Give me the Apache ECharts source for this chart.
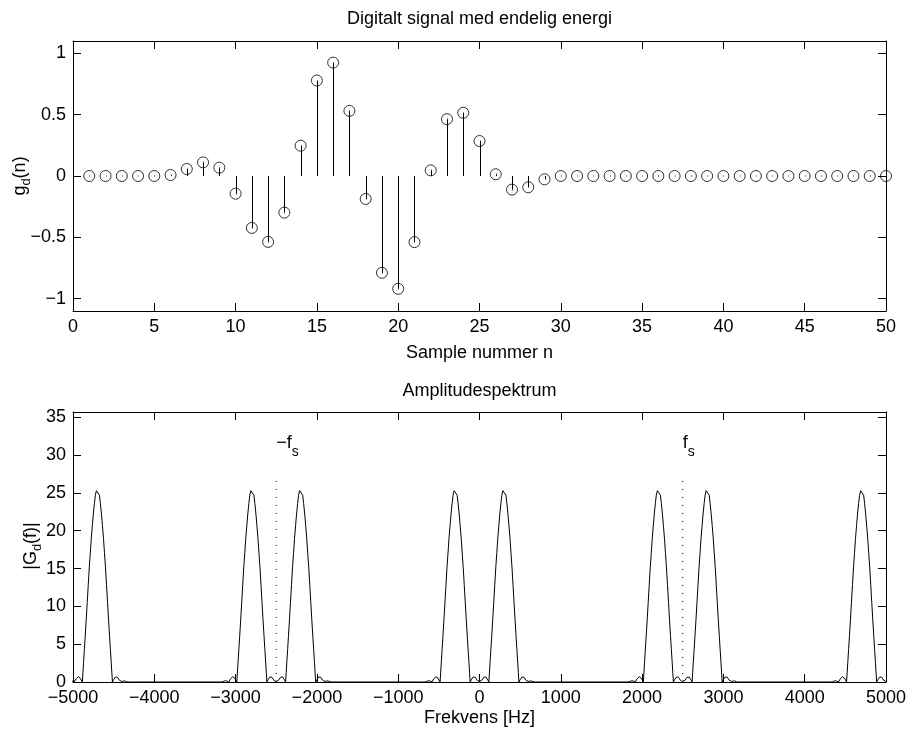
<!DOCTYPE html>
<html>
<head>
<meta charset="utf-8">
<script src="https://cdn.jsdelivr.net/npm/echarts@6/dist/echarts.min.js"></script>
<style>
html,body{margin:0;padding:0;background:#fff;}
#main{width:910px;height:731px;}
</style>
</head>
<body>
<div id="main"></div>
<script>
// ---- Data ----
var sampleN = [1,2,3,4,5,6,7,8,9,10,11,12,13,14,15,16,17,18,19,20,21,22,23,24,25,26,27,28,29,30,31,32,33,34,35,36,37,38,39,40,41,42,43,44,45,46,47,48,49,50];
var gValues = [0,0,0,0,0,0.008,0.057,0.111,0.068,-0.144,-0.423,-0.537,-0.298,0.247,0.778,0.924,0.531,-0.187,-0.789,-0.919,-0.539,0.046,0.463,0.515,0.285,0.014,-0.111,-0.092,-0.027,0,0,0,0,0,0,0,0,0,0,0,0,0,0,0,0,0,0,0,0,0];

var topXTicks = [0,5,10,15,20,25,30,35,40,45,50];
var topYTicks = [-1,-0.5,0,0.5,1];

// spectrum: peak centres (Hz) and one lobe profile (offset Hz -> |G|)
var peakCenters = [-4700,-2800,-2200,-300,300,2200,2800,4700];
var lobeOffsets = [0,12,25,37,50,62,75,87,100,112,125,137,150,160,170,178,185,198,210,222,235,248,260,272,285,298,310,322,335,348,360,385];
var lobeValues  = [25.5,25.3,24.7,23.6,22.2,20.7,19.0,17.1,15.1,12.9,10.5,8.3,6.0,4.3,2.6,1.2,0,0.28,0.5,0.66,0.7,0.62,0.45,0.22,0,0.08,0.14,0.18,0.15,0.08,0.03,0];

var botXTicks = [-5000,-4000,-3000,-2000,-1000,0,1000,2000,3000,4000,5000];
var botYTicks = [0,5,10,15,20,25,30,35];

var fsPositions = [-2500, 2500];
var fsLineTop = 27.3;
var fsLabelMain = ['\u2212f', 'f'];
var fsLabelSub = ['s', 's'];
var fsLabelY = 31.6;

// ---- Build series data ----
var stemData = sampleN.map(function(n,i){ return [n, gValues[i]]; });

var specPts = [];
peakCenters.forEach(function(c){
  lobeOffsets.forEach(function(off, k){
    [-1, 1].forEach(function(sgn){
      if (off === 0 && sgn < 0) return;
      var x = c + sgn*off;
      var nearest = true;
      peakCenters.forEach(function(c2){ if (c2 !== c && Math.abs(x - c2) < off) nearest = false; });
      if (nearest) specPts.push([x, lobeValues[k]]);
    });
  });
});
specPts.sort(function(a,b){ return a[0]-b[0]; });

var FONT = '"Liberation Sans", Arial, Helvetica, sans-serif';
var FS = 18;
function minusFmt(v){ return String(v).replace('-', '\u2212'); }

function axisCommon(extra){
  var o = {
    axisLine:{show:true, onZero:false, lineStyle:{color:'#000', width:1}},
    axisTick:{show:true, inside:true, length:8, lineStyle:{color:'#000', width:1}},
    splitLine:{show:false},
    axisLabel:{show:true, color:'#000', fontFamily:FONT, fontSize:FS, formatter:minusFmt}
  };
  for (var k in extra) {
    if (typeof extra[k] === 'object' && !Array.isArray(extra[k]) && o[k]) {
      for (var j in extra[k]) o[k][j] = extra[k][j];
    } else o[k] = extra[k];
  }
  return o;
}

var chart = echarts.init(document.getElementById('main'), null, {renderer:'canvas'});

var option = {
  animation:false,
  backgroundColor:'#fff',
  grid:[
    {left:73, top:41, width:813, height:270},
    {left:73, top:412, width:813, height:270}
  ],
  xAxis:[
    axisCommon({type:'value', gridIndex:0, position:'bottom', min:0, max:50, interval:5,
      axisLabel:{margin:7}}),
    axisCommon({type:'value', gridIndex:0, position:'top', min:0, max:50, interval:5,
      axisLabel:{show:false}}),
    axisCommon({type:'value', gridIndex:1, position:'bottom', min:-5000, max:5000, interval:1000,
      axisLabel:{margin:7}}),
    axisCommon({type:'value', gridIndex:1, position:'top', min:-5000, max:5000, interval:1000,
      axisLabel:{show:false}})
  ],
  yAxis:[
    axisCommon({type:'value', gridIndex:0, position:'left', min:-1.1, max:1.1,
      axisLabel:{margin:7, customValues:topYTicks}, axisTick:{customValues:topYTicks}}),
    axisCommon({type:'value', gridIndex:0, position:'right', min:-1.1, max:1.1,
      axisLabel:{show:false, customValues:topYTicks}, axisTick:{customValues:topYTicks}}),
    axisCommon({type:'value', gridIndex:1, position:'left', min:0, max:35.7,
      axisLabel:{margin:7, customValues:botYTicks}, axisTick:{customValues:botYTicks}}),
    axisCommon({type:'value', gridIndex:1, position:'right', min:0, max:35.7,
      axisLabel:{show:false, customValues:botYTicks}, axisTick:{customValues:botYTicks}})
  ],
  series:[
    {
      type:'custom', xAxisIndex:0, yAxisIndex:0, data:stemData, clip:false,
      renderItem:function(params, api){
        var x = api.value(0), v = api.value(1);
        var p0 = api.coord([x, 0]), p1 = api.coord([x, v]);
        var px = Math.round(p0[0]) + 0.5;
        return {type:'group', children:[
          {type:'line', shape:{x1:px, y1:p0[1], x2:px, y2:p1[1]}, style:{stroke:'#000', lineWidth:1}},
          {type:'rect', shape:{x:Math.round(p1[0]), y:Math.round(p1[1]) - 0.5, width:1, height:1}, style:{fill:'#333'}}
        ]};
      }
    },
    {
      type:'scatter', xAxisIndex:0, yAxisIndex:0, data:stemData, symbol:'circle', symbolSize:11,
      itemStyle:{color:'rgba(0,0,0,0)', borderColor:'#000', borderWidth:1}, z:3
    },
    {
      type:'line', xAxisIndex:2, yAxisIndex:2, data:specPts, showSymbol:false, symbol:'none',
      lineStyle:{color:'#000', width:1}, clip:true
    }
  ].concat(fsPositions.map(function(f){
    return {
      type:'line', xAxisIndex:2, yAxisIndex:2, data:[[f,0],[f,fsLineTop]], showSymbol:false, symbol:'none',
      lineStyle:{color:'#000', width:1, type:[1,7]}
    };
  }))
};
chart.setOption(option);

// ---- Texts ----
var mctx = document.createElement('canvas').getContext('2d');
function tw(text, size){ mctx.font = size + 'px ' + FONT; return mctx.measureText(text).width; }
function txt(x, y, text, size, align, vAlign){
  return {type:'text', x:x, y:y, silent:true,
    style:{text:text, fill:'#000', font: size + 'px ' + FONT, textAlign:align||'center', textVerticalAlign:vAlign||'middle'}};
}
function subText(parts, size, subSize, subDrop){
  var children = [], x = 0;
  parts.forEach(function(p){
    var s = p[1] ? subSize : size;
    children.push(txt(x, p[1] ? subDrop : 0, p[0], s, 'left', 'middle'));
    x += tw(p[0], s);
  });
  return {children:children, width:x};
}

var graphics = [];
graphics.push(txt(479.5, 19, 'Digitalt signal med endelig energi', FS));
graphics.push(txt(479.5, 353, 'Sample nummer n', FS));
graphics.push(txt(479.5, 391, 'Amplitudespektrum', FS));
graphics.push(txt(479.5, 718, 'Frekvens [Hz]', FS));

var gl = subText([['g',false],['d',true],['(n)',false]], FS, 13, 6);
graphics.push({type:'group', x:20, y:176 + gl.width/2, rotation:Math.PI/2, children:gl.children});
var Gl = subText([['|G',false],['d',true],['(f)|',false]], FS, 13, 6);
graphics.push({type:'group', x:31, y:546 + Gl.width/2, rotation:Math.PI/2, children:Gl.children});

fsPositions.forEach(function(f, i){
  var p = chart.convertToPixel({xAxisIndex:2, yAxisIndex:2}, [f, fsLabelY]);
  var lab = subText([[fsLabelMain[i], false],[fsLabelSub[i], true]], FS, 14, 9);
  graphics.push({type:'group', x:p[0], y:p[1], children:lab.children});
});

chart.setOption({graphic:graphics});
</script>
</body>
</html>
